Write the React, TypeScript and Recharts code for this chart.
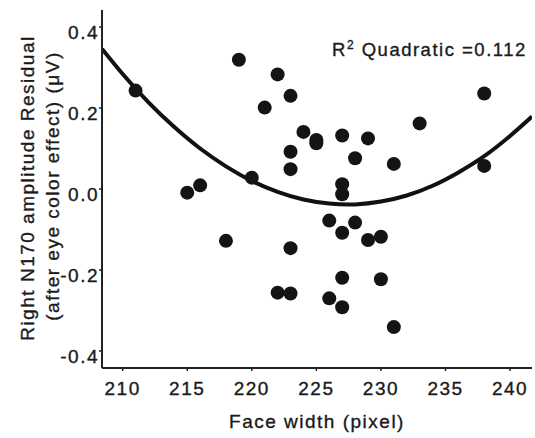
import React from 'react';
import { ComposedChart, Scatter, Line, XAxis, YAxis, Customized } from 'recharts';

// scatter points
const faceWidth = [211, 215, 216, 218, 219, 220, 221, 222, 222, 223, 223, 223, 223, 223, 224, 225, 225, 226, 226, 227, 227, 227, 227, 227, 227, 228, 228, 229, 229, 230, 230, 231, 231, 233, 238, 238];
const residual = [0.243, -0.009, 0.009, -0.128, 0.319, 0.028, 0.201, 0.283, -0.256, 0.23, 0.092, 0.049, -0.146, -0.258, 0.141, 0.121, 0.113, -0.078, -0.27, 0.132, 0.012, -0.013, -0.108, -0.219, -0.292, 0.076, -0.083, 0.125, -0.126, -0.118, -0.223, 0.062, -0.341, 0.162, 0.236, 0.057];

// quadratic fit line
const curveX = [208.4, 210, 212, 214, 216, 218, 220, 222, 224, 226, 228, 230, 232, 234, 236, 238, 240, 241.7];
const curveY = [0.346, 0.284, 0.214, 0.153, 0.1, 0.056, 0.02, -0.007, -0.026, -0.036, -0.038, -0.031, -0.016, 0.008, 0.041, 0.081, 0.131, 0.179];

const xTicks = [210, 215, 220, 225, 230, 235, 240];
const yTicks = [-0.4, -0.2, 0, 0.2, 0.4];
const r2Value = '0.112';

const FONT = '"Liberation Sans", Arial, sans-serif';
const INK = '#1a1a1a';
const textStyle = { stroke: INK, strokeWidth: 0.35 };

const points = faceWidth.map((x, i) => ({ x, y: residual[i] }));
const curve = curveX.map((x, i) => ({ x, y: curveY[i] }));

const XTick = (props: any) => {
  const { x, y, payload } = props;
  return (
    <text x={x} y={y + 24} textAnchor="middle" fontFamily={FONT} fontSize={19} letterSpacing={1.5} fill={INK} style={textStyle}>
      {payload.value}
    </text>
  );
};

const YTick = (props: any) => {
  const { x, y, payload } = props;
  return (
    <text x={x + 1} y={y + 12} textAnchor="end" fontFamily={FONT} fontSize={19} letterSpacing={1.5} fill={INK} style={textStyle}>
      {Number(payload.value).toFixed(1)}
    </text>
  );
};

const Dot = (props: any) => {
  const { cx, cy } = props;
  return <circle cx={cx} cy={cy} r={7} fill="#141414" />;
};

const Titles = () => (
  <g fontFamily={FONT} fill={INK} letterSpacing={1.5} style={textStyle}>
    <text x={332} y={56} fontSize={18.5}>
      R<tspan fontSize={12} dy={-7}>2</tspan>
      <tspan dy={7}> Quadratic ={r2Value}</tspan>
    </text>
    <text x={317} y={428} fontSize={19} textAnchor="middle">Face width (pixel)</text>
    <text transform="translate(34,188) rotate(-90)" fontSize={19} textAnchor="middle">
      Right N170 amplitude Residual
    </text>
    <text transform="translate(59,186) rotate(-90)" fontSize={19} textAnchor="middle">
      (after eye color effect) (μV)
    </text>
  </g>
);

export default function App() {
  return (
    <div style={{ position: 'absolute', left: 0, top: 0, background: '#fff' }}>
      <ComposedChart width={535} height={438} margin={{ top: 10, right: 3, left: 0, bottom: 0 }}>
        <XAxis
          type="number"
          dataKey="x"
          domain={[208.4, 241.7]}
          ticks={xTicks}
          allowDataOverflow
          height={70}
          tickSize={3}
          tickMargin={0}
          tick={<XTick />}
          axisLine={{ stroke: '#222', strokeWidth: 2 }}
          tickLine={{ stroke: '#222', strokeWidth: 1.5 }}
        />
        <YAxis
          type="number"
          dataKey="y"
          domain={[-0.442, 0.442]}
          ticks={yTicks}
          allowDataOverflow
          width={102}
          tickSize={3}
          tickMargin={1}
          tick={<YTick />}
          axisLine={{ stroke: '#222', strokeWidth: 2 }}
          tickLine={{ stroke: '#222', strokeWidth: 1.5 }}
        />
        <Line
          data={curve}
          dataKey="y"
          type="natural"
          stroke="#111"
          strokeWidth={4}
          dot={false}
          activeDot={false}
          isAnimationActive={false}
        />
        <Scatter data={points} dataKey="y" shape={<Dot />} isAnimationActive={false} />
        <Customized component={<Titles />} />
      </ComposedChart>
    </div>
  );
}
